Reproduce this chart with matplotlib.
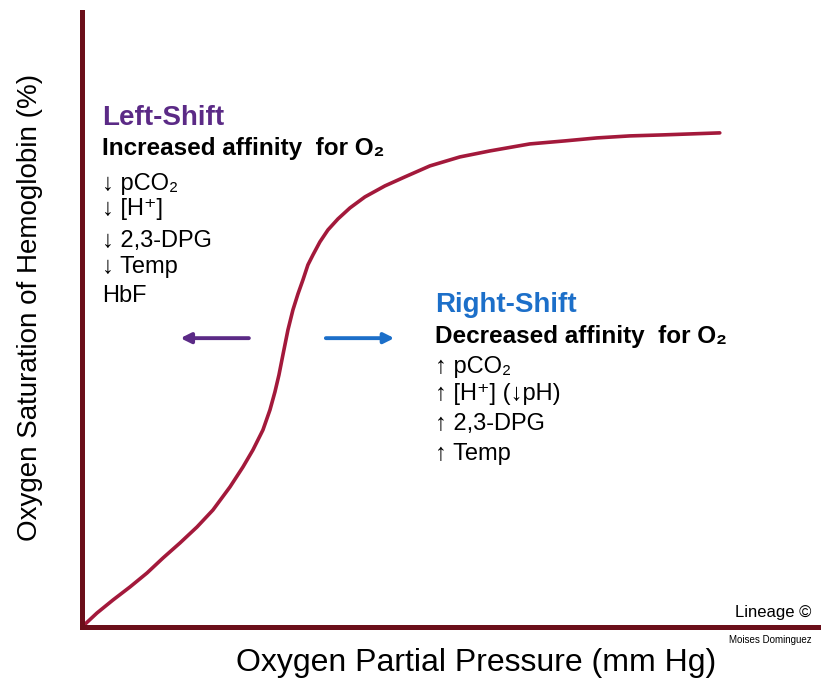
import matplotlib
matplotlib.use("Agg")
import matplotlib.pyplot as plt

plt.rcParams['font.family'] = ['Liberation Sans', 'DejaVu Sans']

# oxygen dissociation curve (pO2 mmHg, saturation %)
po2 = [0, 2.35, 4.86, 7.52, 10.19, 12.70, 15.36, 18.03, 20.53, 23.20, 25.24,
       26.80, 28.37, 29.47, 30.25, 30.88, 31.50, 32.29, 33.07, 33.86, 34.64,
       35.42, 36.21, 37.30, 38.56, 40.13, 42.01, 44.36, 47.49, 50.63, 54.55,
       59.25, 63.95, 70.22, 75.71, 80.72, 85.89, 91.07, 100]
sat = [0, 2.78, 5.36, 7.94, 10.71, 13.69, 16.67, 19.84, 23.21, 27.78, 31.75,
       35.12, 39.09, 43.06, 46.63, 50.00, 53.97, 58.93, 62.90, 66.07, 68.85,
       71.83, 73.81, 76.39, 78.77, 80.95, 83.13, 85.32, 87.50, 89.29, 91.47,
       93.25, 94.44, 95.83, 96.43, 97.02, 97.42, 97.62, 98.02]

left_title = "Left-Shift"
left_sub = "Increased affinity  for O\u2082"
left_items = ["\u2193 pCO\u2082", "\u2193 [H\u207a]", "\u2193 2,3-DPG", "\u2193 Temp", "HbF"]
right_title = "Right-Shift"
right_sub = "Decreased affinity  for O\u2082"
right_items = ["\u2191 pCO\u2082", "\u2191 [H\u207a] (\u2193pH)", "\u2191 2,3-DPG", "\u2191 Temp"]

axis_col = '#6b0f1a'
curve_col = '#a3193b'
purple = '#5b2a86'
blue = '#1c6fc9'

W, H = 824, 681
fig = plt.figure(figsize=(W / 100, H / 100), dpi=100)
ax = fig.add_axes([82 / W, (H - 627) / H, (818 - 82) / W, (627 - 12) / H])
ax.set_xlim(0, 115.4)
ax.set_ylim(0, 122.0)

ax.plot(po2, sat, color=curve_col, lw=2.6, solid_capstyle='round', solid_joinstyle='round')

for s in ['top', 'right']:
    ax.spines[s].set_visible(False)
for s in ['left', 'bottom']:
    ax.spines[s].set_color(axis_col)
    ax.spines[s].set_linewidth(3.6)
ax.set_xticks([])
ax.set_yticks([])

ax.set_xlabel("Oxygen Partial Pressure (mm Hg)", fontsize=23, va='center')
ax.xaxis.set_label_coords(0.535, -0.0585)
ax.set_ylabel("Oxygen Saturation of Hemoglobin (%)", fontsize=20, va='center')
ax.yaxis.set_label_coords(-0.0707, 0.519)

# left-shift block
ax.text(3.1, 99.6, left_title, color=purple, fontsize=20, fontweight='bold', va='baseline')
ax.text(3.1, 93.7, left_sub, color='black', fontsize=17.5, fontweight='bold', va='baseline')
left_y = [86.7, 81.7, 75.4, 70.2, 64.5]
for t, y in zip(left_items, left_y):
    ax.text(3.1, y, t, fontsize=17, va='baseline')

# right-shift block
ax.text(55.3, 62.5, right_title, color=blue, fontsize=20, fontweight='bold', va='baseline')
ax.text(55.3, 56.3, right_sub, color='black', fontsize=17.5, fontweight='bold', va='baseline')
right_y = [50.4, 45.0, 39.1, 33.1]
for t, y in zip(right_items, right_y):
    ax.text(55.3, y, t, fontsize=17, va='baseline')

# shift arrows
ax.annotate("", xy=(15.0, 57.3), xytext=(26.6, 57.3),
            arrowprops=dict(arrowstyle='-|>', color=purple, lw=2.8, mutation_scale=15))
ax.annotate("", xy=(49.4, 57.3), xytext=(37.8, 57.3),
            arrowprops=dict(arrowstyle='-|>', color=blue, lw=2.8, mutation_scale=15))

ax.text(114.4, 2.0, "Lineage \u00a9", fontsize=12, ha='right', va='baseline')
ax.text(114.4, -3.2, "Moises Dominguez", fontsize=7, ha='right', va='baseline', clip_on=False)

fig.savefig("out.png", dpi=100)
